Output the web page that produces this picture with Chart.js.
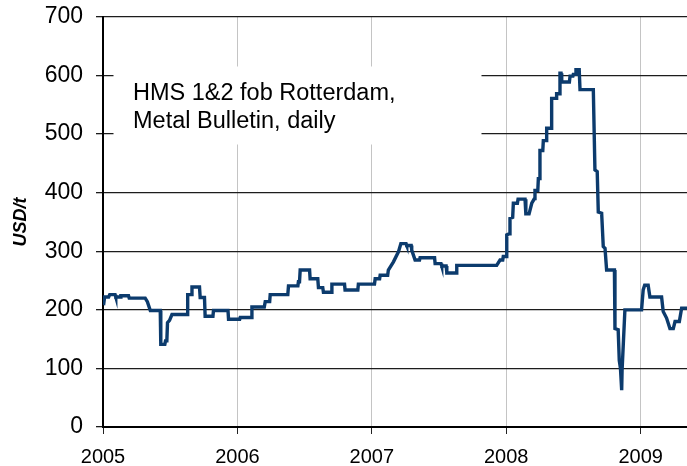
<!DOCTYPE html>
<html>
<head>
<meta charset="utf-8">
<script src="https://cdn.jsdelivr.net/npm/chart.js@4/dist/chart.umd.min.js"></script>
<style>
  html, body { margin: 0; padding: 0; background: #fff; }
  #wrap { width: 687px; height: 466px; }
</style>
</head>
<body>
<div id="wrap"><canvas id="scrapChart" width="687" height="466"></canvas></div>
<script>
// date as decimal year, price in USD/t
const dates = [
  2005.004, 2005.012, 2005.042, 2005.05, 2005.09, 2005.095, 2005.129, 2005.133, 2005.19, 2005.195,
  2005.314, 2005.33, 2005.352, 2005.426, 2005.43, 2005.46, 2005.465, 2005.475, 2005.48, 2005.495,
  2005.513, 2005.625, 2005.63, 2005.655, 2005.662, 2005.718, 2005.723, 2005.755, 2005.76, 2005.818,
  2005.822, 2005.93, 2005.934, 2006.017, 2006.021, 2006.104, 2006.108, 2006.2, 2006.207, 2006.24,
  2006.244, 2006.375, 2006.38, 2006.45, 2006.454, 2006.462, 2006.467, 2006.537, 2006.541, 2006.598,
  2006.603, 2006.635, 2006.64, 2006.7, 2006.703, 2006.797, 2006.801, 2006.896, 2006.9, 2007.02,
  2007.025, 2007.058, 2007.062, 2007.118, 2007.123, 2007.161, 2007.198, 2007.216, 2007.255, 2007.26,
  2007.293, 2007.297, 2007.322, 2007.355, 2007.359, 2007.467, 2007.471, 2007.515, 2007.52, 2007.553,
  2007.558, 2007.627, 2007.632, 2007.929, 2007.954, 2007.974, 2007.978, 2008.0, 2008.004, 2008.024,
  2008.028, 2008.048, 2008.053, 2008.083, 2008.088, 2008.14, 2008.146, 2008.17, 2008.19, 2008.21,
  2008.214, 2008.235, 2008.239, 2008.248, 2008.251, 2008.272, 2008.276, 2008.297, 2008.301, 2008.334,
  2008.338, 2008.372, 2008.375, 2008.396, 2008.4, 2008.408, 2008.413, 2008.47, 2008.475, 2008.496,
  2008.499, 2008.515, 2008.519, 2008.543, 2008.549, 2008.648, 2008.66, 2008.677, 2008.685, 2008.71,
  2008.722, 2008.735, 2008.747, 2008.805, 2008.809, 2008.833, 2008.841, 2008.85, 2008.859, 2008.862,
  2008.866, 2008.883, 2009.007, 2009.019, 2009.03, 2009.056, 2009.069, 2009.156, 2009.168, 2009.193,
  2009.218, 2009.243, 2009.256, 2009.288, 2009.305, 2009.345
];
const prices = [
  208, 222, 222, 226, 226, 222, 222, 224, 224, 220,
  220, 214, 199, 199, 141, 141, 147, 147, 178, 182,
  192, 192, 226, 226, 239, 239, 221, 221, 189, 189,
  199, 199, 184, 184, 187, 187, 205, 205, 214, 214,
  226, 226, 241, 241, 248, 248, 268, 268, 253, 253,
  238, 238, 230, 230, 244, 244, 234, 234, 244, 244,
  253, 253, 259, 259, 268, 282, 299, 313, 313, 310,
  310, 302, 285, 285, 289, 289, 279, 279, 275, 275,
  263, 263, 276, 276, 285, 285, 291, 291, 328, 330,
  356, 358, 382, 382, 389, 389, 364, 364, 382, 390,
  404, 404, 424, 424, 472, 472, 489, 489, 510, 510,
  561, 561, 569, 569, 604, 604, 589, 589, 599, 599,
  602, 602, 610, 610, 576, 576, 439, 436, 367, 365,
  308, 305, 268, 268, 168, 166, 114, 100, 63, 97,
  97, 200, 200, 234, 242, 242, 222, 222, 197, 186,
  168, 168, 180, 180, 203, 203
];
const yearTicks = [2005, 2006, 2007, 2008, 2009];
const noteLines = ['HMS 1&2 fob Rotterdam,', 'Metal Bulletin, daily'];

const notePlugin = {
  id: 'noteBox',
  beforeDatasetsDraw(chart) {
    const ctx = chart.ctx;
    ctx.save();
    ctx.fillStyle = '#ffffff';
    ctx.fillRect(113.5, 66.5, 368, 78);
    ctx.fillStyle = '#000000';
    ctx.font = '23.5px "Liberation Sans", Arial, sans-serif';
    ctx.textBaseline = 'alphabetic';
    ctx.fillText(noteLines[0], 133, 100);
    ctx.fillText(noteLines[1], 133, 128);
    ctx.restore();
  }
};

new Chart(document.getElementById('scrapChart'), {
  type: 'line',
  data: {
    datasets: [{
      data: dates.map((d, i) => ({ x: d, y: prices[i] })),
      borderColor: '#0c3b6d',
      borderWidth: 3.4,
      pointRadius: 0,
      tension: 0,
      fill: false
    }]
  },
  options: {
    responsive: false,
    animation: false,
    layout: { padding: { top: 17, right: 0, left: 0, bottom: 0 } },
    plugins: { legend: { display: false }, tooltip: { enabled: false } },
    scales: {
      x: {
        type: 'linear',
        min: 2005,
        max: 2009.345,
        afterBuildTicks: s => { s.ticks = yearTicks.map(v => ({ value: v })); },
        afterFit: s => { s.height = 39; },
        grid: { color: '#c4c4c4', lineWidth: 1, tickColor: '#222', tickLength: 7 },
        border: { color: '#000', width: 2 },
        ticks: {
          color: '#000',
          padding: 11,
          maxRotation: 0,
          font: { family: '"Liberation Sans", Arial, sans-serif', size: 20 },
          callback: v => String(v)
        }
      },
      y: {
        min: 0,
        max: 700,
        afterFit: s => { s.width = 103; s.paddingTop = 0; s.paddingBottom = 0; },
        grid: { color: '#1c1c1c', lineWidth: 1.3, tickColor: '#1c1c1c', tickLength: 7 },
        border: { color: '#000', width: 2 },
        ticks: {
          stepSize: 100,
          color: '#000',
          padding: 13,
          font: { family: '"Liberation Sans", Arial, sans-serif', size: 23 }
        },
        title: {
          display: true,
          text: 'USD/t',
          color: '#000',
          padding: { top: 10, bottom: 0 },
          font: { family: '"Liberation Sans", Arial, sans-serif', size: 18, weight: 'bold', style: 'italic' }
        }
      }
    }
  },
  plugins: [notePlugin]
});
</script>
</body>
</html>
